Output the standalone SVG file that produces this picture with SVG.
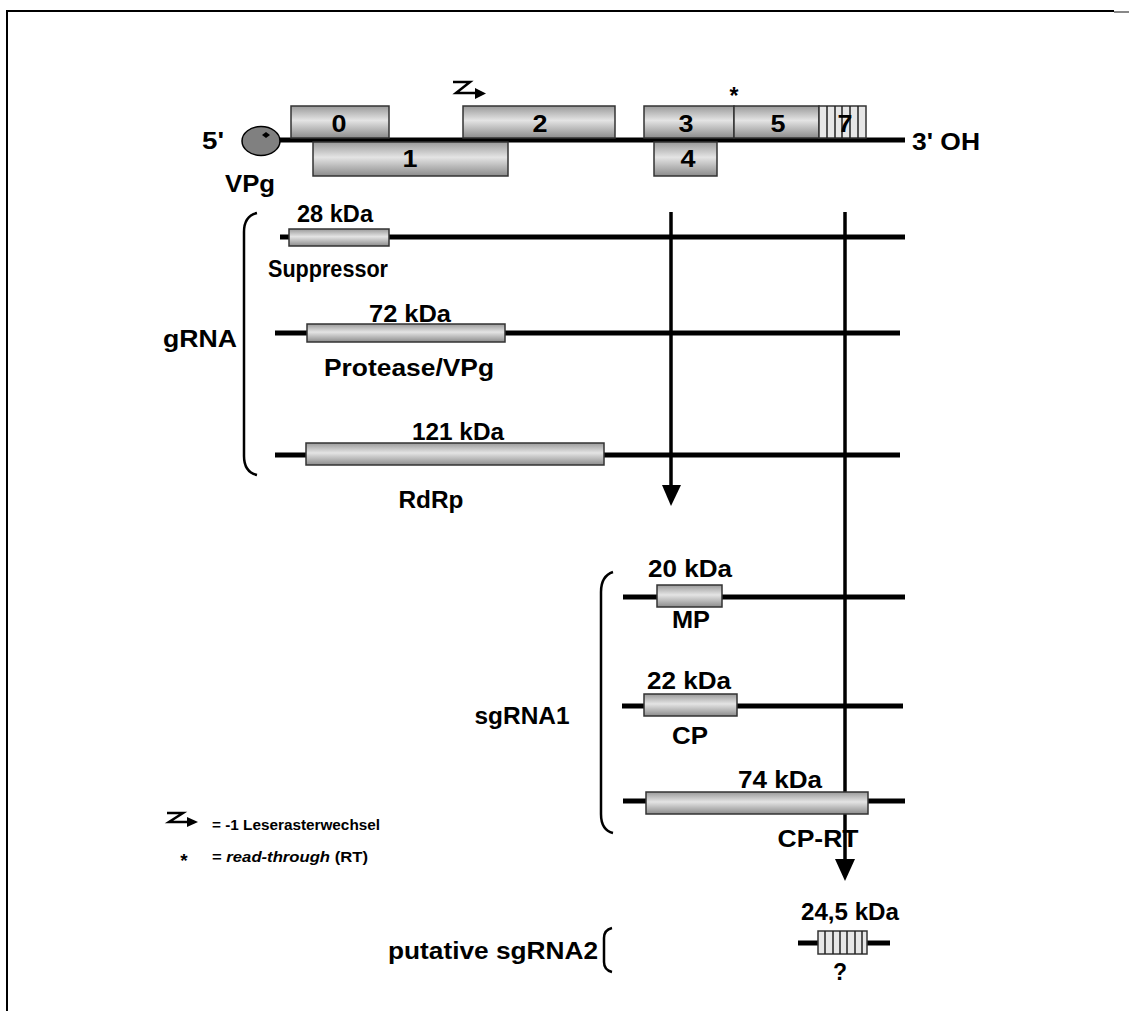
<svg xmlns="http://www.w3.org/2000/svg" width="1129" height="1011" viewBox="0 0 1129 1011">
<style>
text{font-family:"Liberation Sans",Arial,sans-serif;font-weight:bold;fill:#000}
.t{font-size:23px}
.leg{font-size:15px}
.ln{stroke:#000;stroke-width:5;fill:none}
.br{stroke:#000;stroke-width:2.5;fill:none}
.bx{fill:url(#g);stroke:#333;stroke-width:1.5}
.hb{fill:#e6e6e6;stroke:#333;stroke-width:1.5}
.hl{stroke:#222;stroke-width:1.5}
.ar{stroke:#000;stroke-width:3.5;fill:none}
</style>
<defs>
<linearGradient id="g" x1="0" y1="0" x2="0" y2="1">
<stop offset="0" stop-color="#9a9a9a"/>
<stop offset="0.45" stop-color="#e4e4e4"/>
<stop offset="1" stop-color="#8c8c8c"/>
</linearGradient>
</defs>
<rect width="1129" height="1011" fill="#fff"/>
<g id="frame">
<path d="M7,1011 V11 H1114" stroke="#000" stroke-width="2" fill="none"/>
<path d="M1114,12 H1129" stroke="#888" stroke-width="2"/>
</g>

<g id="genome">
<line class="ln" x1="278" y1="140" x2="905" y2="140"/>
<rect class="bx" x="291" y="106" width="98" height="32"/>
<text class="t" x="339" y="132" text-anchor="middle" textLength="15" lengthAdjust="spacingAndGlyphs">0</text>
<rect class="bx" x="313" y="142" width="195" height="34"/>
<text class="t" x="410" y="167" text-anchor="middle" textLength="15" lengthAdjust="spacingAndGlyphs">1</text>
<rect class="bx" x="463" y="106" width="152" height="32"/>
<text class="t" x="540" y="132" text-anchor="middle" textLength="15" lengthAdjust="spacingAndGlyphs">2</text>
<rect class="bx" x="644" y="106" width="90" height="32"/>
<text class="t" x="686" y="132" text-anchor="middle" textLength="15" lengthAdjust="spacingAndGlyphs">3</text>
<rect class="bx" x="734" y="106" width="85" height="32"/>
<text class="t" x="778" y="132" text-anchor="middle" textLength="15" lengthAdjust="spacingAndGlyphs">5</text>
<rect class="hb" x="819" y="106" width="47" height="32"/>
<path class="hl" d="M827,106V138 M835,106V138 M842,106V138 M850,106V138 M858,106V138"/>
<text class="t" x="845" y="132" text-anchor="middle" textLength="15" lengthAdjust="spacingAndGlyphs">7</text>
<rect class="bx" x="654" y="142" width="63" height="34"/>
<text class="t" x="688" y="167" text-anchor="middle" textLength="15" lengthAdjust="spacingAndGlyphs">4</text>
<text class="t" x="734" y="104" text-anchor="middle">*</text>
<g id="fs-top">
<path d="M453,82 H470 L456,93 H477" stroke="#000" stroke-width="2.5" fill="none"/>
<path d="M475,88 L486,93.5 L475,99 Z" fill="#000"/>
</g>
<ellipse cx="261" cy="141" rx="19" ry="14.5" fill="#808080" stroke="#000" stroke-width="1.5"/>
<path d="M266,132 L270,135 L266,138 L262,135 Z" fill="#000"/>
<text class="t" x="213" y="149" text-anchor="middle" textLength="22" lengthAdjust="spacingAndGlyphs">5'</text>
<text class="t" x="250" y="192" text-anchor="middle" textLength="50" lengthAdjust="spacingAndGlyphs">VPg</text>
<text class="t" x="912" y="150" textLength="68" lengthAdjust="spacingAndGlyphs">3' OH</text>
</g>

<g id="connectors">
<line class="ar" x1="671" y1="212" x2="671" y2="488"/>
<path d="M662,485 L681,485 L671,506 Z" fill="#000"/>
<line class="ar" x1="845" y1="212" x2="845" y2="862"/>
<path d="M835,859 L855,859 L845,881 Z" fill="#000"/>
</g>

<g id="gRNA">
<path class="br" d="M257,213 Q244,216 244,232 V456 Q244,472 257,475"/>
<text class="t" x="200" y="347" text-anchor="middle" textLength="74" lengthAdjust="spacingAndGlyphs">gRNA</text>
<g id="suppressor">
<line class="ln" x1="280" y1="237" x2="905" y2="237"/>
<rect class="bx" x="289" y="229" width="100" height="17"/>
<text class="t" x="335" y="222" text-anchor="middle" textLength="76" lengthAdjust="spacingAndGlyphs">28 kDa</text>
<text class="t" x="328" y="277" text-anchor="middle" textLength="120" lengthAdjust="spacingAndGlyphs">Suppressor</text>
</g>
<g id="protease">
<line class="ln" x1="275" y1="333" x2="900" y2="333"/>
<rect class="bx" x="307" y="324" width="198" height="18"/>
<text class="t" x="410" y="322" text-anchor="middle" textLength="82" lengthAdjust="spacingAndGlyphs">72 kDa</text>
<text class="t" x="409" y="376" text-anchor="middle" textLength="170" lengthAdjust="spacingAndGlyphs">Protease/VPg</text>
</g>
<g id="rdrp">
<line class="ln" x1="275" y1="455" x2="900" y2="455"/>
<rect class="bx" x="306" y="443" width="298" height="22"/>
<text class="t" x="458" y="440" text-anchor="middle" textLength="92" lengthAdjust="spacingAndGlyphs">121 kDa</text>
<text class="t" x="431" y="508" text-anchor="middle" textLength="65" lengthAdjust="spacingAndGlyphs">RdRp</text>
</g>
</g>

<g id="sgRNA1">
<path class="br" d="M613,572 Q601,576 601,592 V814 Q601,830 613,833"/>
<text class="t" x="522" y="724" text-anchor="middle" textLength="95" lengthAdjust="spacingAndGlyphs">sgRNA1</text>
<g id="mp">
<line class="ln" x1="623" y1="597" x2="905" y2="597"/>
<rect class="bx" x="657" y="585" width="65" height="22"/>
<text class="t" x="690" y="577" text-anchor="middle" textLength="84" lengthAdjust="spacingAndGlyphs">20 kDa</text>
<text class="t" x="691" y="628" text-anchor="middle" textLength="38" lengthAdjust="spacingAndGlyphs">MP</text>
</g>
<g id="cp">
<line class="ln" x1="622" y1="706" x2="903" y2="706"/>
<rect class="bx" x="644" y="694" width="93" height="22"/>
<text class="t" x="689" y="689" text-anchor="middle" textLength="84" lengthAdjust="spacingAndGlyphs">22 kDa</text>
<text class="t" x="690" y="744" text-anchor="middle" textLength="36" lengthAdjust="spacingAndGlyphs">CP</text>
</g>
<g id="cprt">
<line class="ln" x1="623" y1="801" x2="905" y2="801"/>
<rect class="bx" x="646" y="792" width="222" height="22"/>
<text class="t" x="780" y="788" text-anchor="middle" textLength="84" lengthAdjust="spacingAndGlyphs">74 kDa</text>
<text class="t" x="818" y="847" text-anchor="middle" textLength="81" lengthAdjust="spacingAndGlyphs">CP-RT</text>
</g>
</g>

<g id="sgRNA2">
<path class="br" d="M612,928 Q604,930 604,938 V962 Q604,970 612,972"/>
<text class="t" x="598" y="959" text-anchor="end" textLength="210" lengthAdjust="spacingAndGlyphs">putative sgRNA2</text>
<line class="ln" x1="798" y1="943" x2="890" y2="943"/>
<rect class="hb" x="818" y="931" width="49" height="23"/>
<path class="hl" d="M825,931V954 M833,931V954 M840,931V954 M847,931V954 M855,931V954 M862,931V954"/>
<text class="t" x="850" y="920" text-anchor="middle" textLength="98" lengthAdjust="spacingAndGlyphs">24,5 kDa</text>
<text class="t" x="840" y="980" text-anchor="middle">?</text>
</g>

<g id="legend">
<path d="M167,813 H183 L169,822 H189" stroke="#000" stroke-width="2.5" fill="none"/>
<path d="M187,817 L198,822 L187,827 Z" fill="#000"/>
<text class="leg" x="212" y="830" textLength="168" lengthAdjust="spacingAndGlyphs">= -1 Leserasterwechsel</text>
<text x="184" y="867" font-size="19" text-anchor="middle">*</text>
<text class="leg" x="212" y="862" textLength="156" lengthAdjust="spacingAndGlyphs">= <tspan font-style="italic">read-through</tspan> (RT)</text>
</g>
</svg>
